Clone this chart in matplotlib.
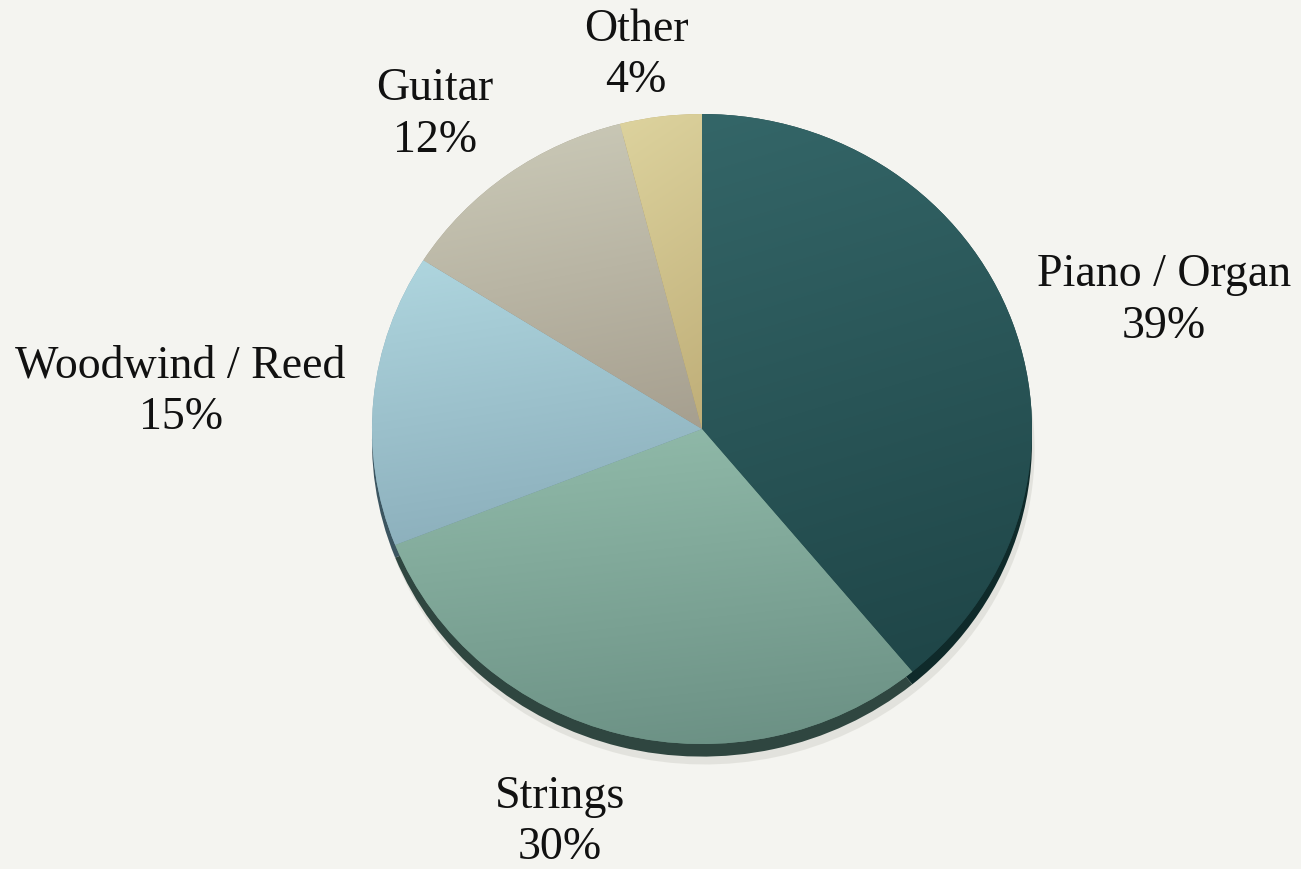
import matplotlib.pyplot as plt
from matplotlib.colors import to_rgb
import numpy as np

# Instrument share data
categories = ["Piano / Organ", "Strings", "Woodwind / Reed", "Guitar", "Other"]
shares = [39, 30, 15, 12, 4]

# Slice colours: light (top of slice) -> dark (bottom of slice), plus the rim colour
topColours = ["#346668", "#92bcab", "#afd6df", "#cccbb9", "#ddd39e"]
bottomColours = ["#1e4446", "#6a8f83", "#88abb8", "#a69f8f", "#bfae78"]
rimColours = ["#0f2a2a", "#2f4640", "#3c5560", "#55524a", "#6b6040"]

# Label anchors (pie-radius units) for the outside-end labels
labelPositions = [(1.40, 0.41), (-0.43, -1.245), (-1.58, 0.12), (-0.81, 1.0), (-0.20, 1.19)]

background = "#f4f4f0"

fig = plt.figure(figsize=(13.01, 8.70), dpi=100, facecolor=background)
ax = fig.add_axes([0, 0, 1, 1])
ax.set_facecolor(background)

# Soft shadow and darker rim underneath to give the pie some depth
shadow, _ = ax.pie(shares, radius=1.0, center=(0.008, -0.065), colors=["#d2d2cb"] * len(shares),
                   startangle=90, counterclock=False, frame=True,
                   wedgeprops={"linewidth": 0, "zorder": 0.5, "alpha": 0.5})
rim, _ = ax.pie(shares, radius=1.0, center=(0, -0.04), colors=rimColours,
                startangle=90, counterclock=False, frame=True,
                wedgeprops={"linewidth": 0, "zorder": 1})
wedges, _ = ax.pie(shares, radius=1.0, center=(0, 0), colors=bottomColours,
                   startangle=90, counterclock=False, frame=True,
                   wedgeprops={"linewidth": 0, "zorder": 2})

# Fill each top wedge with a diagonal gradient, clipped to the wedge
yy, xx = np.mgrid[0:1:200j, 0:1:200j]
for wedge, top, bottom in zip(wedges, topColours, bottomColours):
    theta1, theta2 = np.radians(wedge.theta1), np.radians(wedge.theta2)
    angles = np.linspace(theta1, theta2, 100)
    xs = np.concatenate(([0], np.cos(angles)))
    ys = np.concatenate(([0], np.sin(angles)))
    x0, x1, y0, y1 = xs.min(), xs.max(), ys.min(), ys.max()
    t = np.clip(0.85 * yy + 0.15 * xx, 0, 1)  # 0 at top-left, 1 at bottom-right
    c0, c1 = np.array(to_rgb(top)), np.array(to_rgb(bottom))
    img = c0[None, None, :] * (1 - t[..., None]) + c1[None, None, :] * t[..., None]
    im = ax.imshow(img, extent=(x0, x1, y0, y1), origin="upper", aspect="auto",
                   interpolation="bilinear", zorder=3)
    im.set_clip_path(wedge)

# Outside-end labels
for (lx, ly), name, share in zip(labelPositions, categories, shares):
    ax.text(lx, ly, "%s\n%d%%" % (name, share), ha="center", va="center",
            fontsize=33, family="Liberation Serif", color="#111111", linespacing=1.28,
            zorder=5)

# Pie centre at (702, 430) px, 330 px wide radius, 315 px tall radius
ax.set_aspect("auto")
ax.set_xlim(-702 / 330, (1301 - 702) / 330)
ax.set_ylim(-440 / 315, 430 / 315)
ax.axis("off")

fig.savefig("out.png", dpi=100, facecolor=background)
